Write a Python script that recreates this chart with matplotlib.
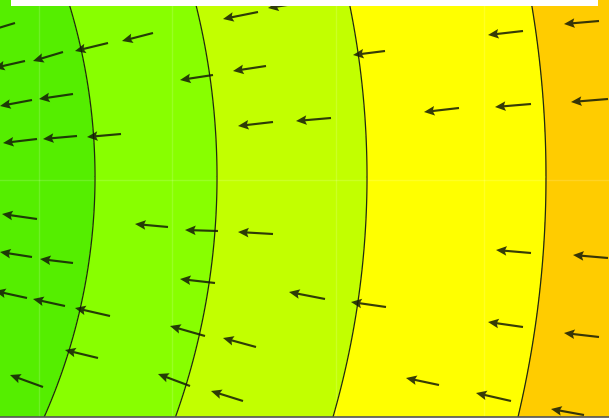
"""Filled contour of a radial potential with gradient arrows (cropped view)."""
import numpy as np
import matplotlib
matplotlib.use("Agg")
import matplotlib.pyplot as plt
from matplotlib.patches import Rectangle

# view in image-pixel units (y grows downward)
x_range = (0, 609)
y_range = (417, 0)

# centre of the circular contours and the contour radii
centre_x, centre_y = -497, 177
levels = [0, 592, 714, 864, 1043, 2000]
band_colors = ["#55ee00", "#88ff00", "#c2ff00", "#ffff00", "#ffcc00"]

# arrows: tail position and head position
tail_x = [15, 25, 63, 108, 153, 32, 73, 37, 77, 121, 213, 258, 300, 266, 273, 331,
          385, 523, 599, 459, 531, 608, 37, 168, 218, 273, 32, 73, 27, 65, 110, 215,
          98, 43, 205, 190, 325, 386, 256, 243, 531, 608, 523, 599, 439, 511, 584]
tail_y = [23, 61, 52, 43, 33, 100, 94, 139, 136, 134, 75, 12, 3, 66, 122, 118,
          51, 31, 21, 108, 104, 99, 219, 227, 231, 234, 257, 263, 298, 306, 316, 283,
          358, 387, 336, 386, 299, 307, 347, 401, 253, 258, 327, 337, 385, 401, 415]
head_x = [-18, -6, 33, 75, 122, 0, 39, 3, 43, 87, 180, 223, 268, 233, 238, 296,
          353, 488, 564, 424, 495, 571, 2, 135, 185, 238, 0, 40, -5, 33, 75, 180,
          65, 10, 170, 158, 289, 351, 223, 211, 496, 573, 488, 564, 406, 476, 551]
head_y = [33, 68, 61, 51, 41, 106, 99, 143, 139, 137, 80, 19, 8, 71, 126, 121,
          55, 35, 24, 112, 107, 102, 214, 224, 230, 232, 252, 259, 291, 299, 308, 279,
          350, 375, 326, 374, 292, 302, 338, 391, 250, 255, 322, 333, 378, 393, 409]

fig = plt.figure(figsize=(6.09, 4.19), dpi=100)
ax = fig.add_axes([0, 2 / 419, 1, 417 / 419])

gx = np.linspace(-30, 640, 400)
gy = np.linspace(-30, 450, 300)
X, Y = np.meshgrid(gx, gy)
Z = np.hypot(X - centre_x, Y - centre_y)

ax.contourf(X, Y, Z, levels=levels, colors=band_colors)
ax.contour(X, Y, Z, levels=levels[1:-1], colors="#1e2a10", linewidths=0.9)

ax.set_xticks([39, 172, 336, 484])
ax.set_yticks([180])
ax.grid(True, color="white", alpha=0.15, lw=1)
ax.tick_params(length=0, labelbottom=False, labelleft=False)

tx, ty = np.array(tail_x, float), np.array(tail_y, float)
u = np.array(head_x, float) - tx
v = np.array(head_y, float) - ty
ax.quiver(tx, ty, u, v, angles="xy", scale_units="xy", scale=1, pivot="tail",
          color="#141a08", alpha=0.85, width=0.0035, headwidth=4.5,
          headlength=5.0, headaxislength=4.3, zorder=3)

ax.add_patch(Rectangle((11, -2), 587, 8, facecolor="white", edgecolor="none", zorder=5))

ax.set_xlim(*x_range)
ax.set_ylim(*y_range)
for side in ["top", "left", "right"]:
    ax.spines[side].set_visible(False)
ax.spines["bottom"].set_color("#555555")
ax.spines["bottom"].set_linewidth(1.2)

fig.savefig("out.png", dpi=100)
